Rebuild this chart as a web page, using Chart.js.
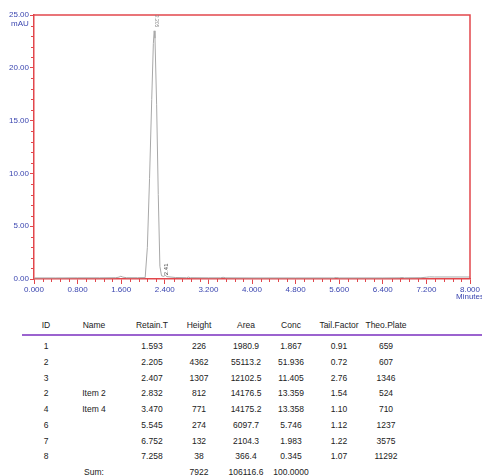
<!DOCTYPE html>
<html><head><meta charset="utf-8">
<script src="https://cdn.jsdelivr.net/npm/chart.js@4.4.0/dist/chart.umd.min.js"></script>
<style>
html,body{margin:0;padding:0;background:#fff;}
#wrap{position:relative;width:482px;height:476px;overflow:hidden;font-family:"Liberation Sans",Arial,sans-serif;}
#c{position:absolute;left:0;top:0;}
.cell{position:absolute;font-size:8.5px;color:#222;white-space:nowrap;transform:translate(-50%,-50%);line-height:10px;}
#rule{position:absolute;left:22px;top:334px;width:460px;height:2px;background:#9b63cf;}
</style></head>
<body><div id="wrap"><canvas id="c" width="482" height="300" style="width:482px;height:300px"></canvas><div id="rule"></div></div>
<script>
// ---- chromatogram data ----
const times  = [0.000,0.400,0.800,1.200,1.500,1.560,1.593,1.630,1.700,1.900,2.040,2.080,2.120,2.160,2.190,2.205,2.220,2.250,2.280,2.310,2.340,2.380,2.407,2.440,2.600,2.800,2.832,2.870,3.200,3.420,3.470,3.520,4.000,4.800,5.500,5.545,5.600,6.400,6.700,6.752,6.800,7.100,7.200,7.258,7.350,8.000];
const signal = [0.10,0.10,0.11,0.11,0.12,0.18,0.26,0.18,0.12,0.12,0.13,3.0,9.5,17.0,22.3,23.5,22.8,16.5,8.0,1.2,0.30,0.25,0.35,0.22,0.14,0.12,0.18,0.12,0.11,0.11,0.16,0.11,0.10,0.10,0.10,0.14,0.10,0.10,0.11,0.14,0.11,0.12,0.17,0.20,0.19,0.19];
const xTicks = [0,0.8,1.6,2.4,3.2,4.0,4.8,5.6,6.4,7.2,8.0];
const yTicks = [0,5,10,15,20,25];
const peakLabels = ["2.205","2.41"];
const peakTimes  = [2.205,2.407];
const peakValues = [23.5,0.35];

// ---- table data ----
const headers     = ["ID","Name","Retain.T","Height","Area","Conc","Tail.Factor","Theo.Plate"];
const ids         = ["1","2","3","2","4","6","7","8"];
const names       = ["","","","Item 2","Item 4","","",""];
const retainT     = ["1.593","2.205","2.407","2.832","3.470","5.545","6.752","7.258"];
const heights     = ["226","4362","1307","812","771","274","132","38"];
const areas       = ["1980.9","55113.2","12102.5","14176.5","14175.2","6097.7","2104.3","366.4"];
const concs       = ["1.867","51.936","11.405","13.359","13.358","5.746","1.983","0.345"];
const tailFactors = ["0.91","0.72","2.76","1.54","1.10","1.12","1.22","1.07"];
const theoPlates  = ["659","607","1346","524","710","1237","3575","11292"];
const sumRow      = ["","Sum:","","7922","106116.6","100.0000","",""];

const RED = '#e2474c', BLUE = '#3b46b0';
const FONT = {family:'"Liberation Sans", Arial, sans-serif', size:8};

const framePlugin = {
  id:'frame',
  afterDraw(chart){
    const {ctx, chartArea:a, scales:{x,y}} = chart;
    ctx.save();
    ctx.strokeStyle = RED; ctx.lineWidth = 1.5;
    ctx.beginPath();
    ctx.moveTo(a.left, a.top); ctx.lineTo(a.right, a.top); ctx.lineTo(a.right, a.bottom);
    ctx.stroke();
    // minor ticks
    ctx.lineWidth = 1;
    ctx.beginPath();
    for (let i=0;i<=50;i++){ if(i%5===0) continue; const px = Math.round(x.getPixelForValue(i*0.16))+0.5; ctx.moveTo(px,a.bottom); ctx.lineTo(px,a.bottom+3); }
    for (let i=0;i<=25;i++){ if(i%5===0) continue; const py = Math.round(y.getPixelForValue(i))+0.5; ctx.moveTo(a.left,py); ctx.lineTo(a.left-3,py); }
    ctx.stroke();
    // axis units
    ctx.fillStyle = BLUE; ctx.font = '8px "Liberation Sans", Arial, sans-serif';
    ctx.textAlign='center'; ctx.textBaseline='middle';
    ctx.fillText('mAU', 20, 24);
    ctx.fillText('Minutes', x.getPixelForValue(8), 297);
    // peak labels
    ctx.save();
    ctx.translate(x.getPixelForValue(peakTimes[0])+2.5, 21);
    ctx.rotate(Math.PI/2);
    ctx.fillStyle='#888'; ctx.font='5px "Liberation Sans", Arial, sans-serif';
    ctx.fillText(peakLabels[0],0,0);
    ctx.restore();
    ctx.save();
    ctx.translate(x.getPixelForValue(peakTimes[1])+1, y.getPixelForValue(peakValues[1])-6);
    ctx.rotate(-Math.PI/2);
    ctx.fillStyle='#444'; ctx.font='6px "Liberation Sans", Arial, sans-serif';
    ctx.fillText(peakLabels[1],0,0);
    ctx.restore();
    ctx.restore();
  }
};

new Chart(document.getElementById('c'), {
  type:'line',
  data:{datasets:[{data:times.map((t,i)=>({x:t,y:signal[i]})), borderColor:'#a8a8a8', borderWidth:1, pointRadius:0, tension:0, fill:false}]},
  options:{
    responsive:false, animation:false, devicePixelRatio:1,
    layout:{padding:{top:15,right:12,left:0,bottom:0}},
    plugins:{legend:{display:false}, tooltip:{enabled:false}},
    scales:{
      x:{type:'linear', min:0, max:8,
         afterBuildTicks:s=>{s.ticks = xTicks.map(v=>({value:v}));},
         afterFit:s=>{s.height=21;},
         ticks:{autoSkip:false, maxRotation:0, padding:1, color:BLUE, font:FONT, callback:v=>Number(v).toFixed(3)},
         grid:{drawOnChartArea:false, tickLength:5, color:RED},
         border:{color:RED, width:1.5}},
      y:{type:'linear', min:0, max:25,
         afterBuildTicks:s=>{s.ticks = yTicks.map(v=>({value:v}));},
         afterFit:s=>{s.width=34;},
         ticks:{padding:1, color:BLUE, font:FONT, callback:v=>Number(v).toFixed(2)},
         grid:{drawOnChartArea:false, tickLength:4, color:RED},
         border:{color:RED, width:1.5}}
    }
  },
  plugins:[framePlugin]
});

// ---- build table ----
const wrap = document.getElementById('wrap');
const colX = [46,94,152,199,246,291,339,386];
function cell(txt,x,y){ if(!txt) return; const d=document.createElement('div'); d.className='cell'; d.textContent=txt; d.style.left=x+'px'; d.style.top=y+'px'; wrap.appendChild(d); }
headers.forEach((h,i)=>cell(h,colX[i],325));
const rowY0 = 346, rowStep = 15.75;
ids.forEach((id,r)=>{
  const vals=[id,names[r],retainT[r],heights[r],areas[r],concs[r],tailFactors[r],theoPlates[r]];
  vals.forEach((v,i)=>cell(v,colX[i],rowY0+r*rowStep));
});
sumRow.forEach((v,i)=>cell(v,colX[i],rowY0+8*rowStep));
</script></body></html>
